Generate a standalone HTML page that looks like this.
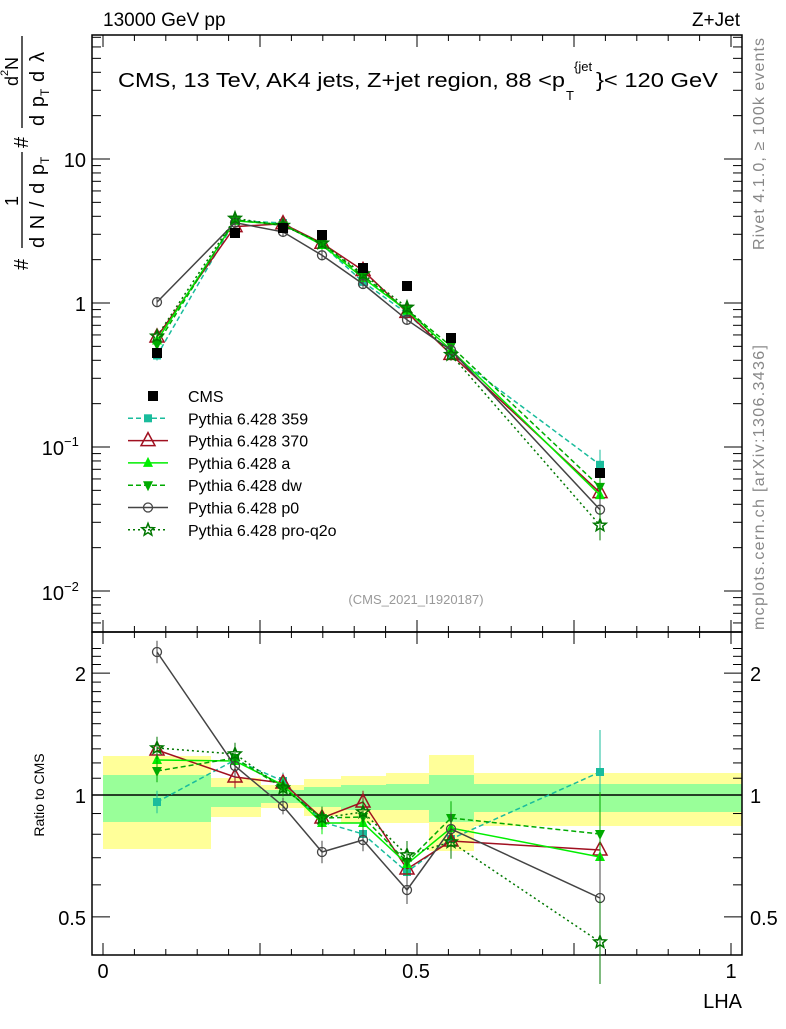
<!DOCTYPE html>
<html><head><meta charset="utf-8"><style>
body{margin:0;background:#fff}
svg{font-family:"Liberation Sans",sans-serif}
</style></head><body>
<svg id="s" width="786" height="1024" xmlns="http://www.w3.org/2000/svg"></svg>
<script>
const S=document.getElementById('s');let h='';
const X0=92,X1=742,YT=35,YM=632,YB=955;
const xp=v=>103+628*v;
const my=v=>303-144*Math.log10(v);
const ry=r=>795-405*Math.log10(r);
const edges=[103,211,261,304,341,386,429,474,742];
const yel=[[756,849],[778,817],[785,808],[779,816],[776,823],[773,823],[755,851],[773,826]];
const grn=[[775,822],[787,807],[790,803],[787,807],[785,810],[784,810],[775,822],[784,812]];
for(let i=0;i<8;i++){h+=`<rect x="${edges[i]}" y="${yel[i][0]}" width="${edges[i+1]-edges[i]}" height="${yel[i][1]-yel[i][0]}" fill="#ffff99"/>`;
h+=`<rect x="${edges[i]}" y="${grn[i][0]}" width="${edges[i+1]-edges[i]}" height="${grn[i][1]-grn[i][0]}" fill="#99ff99"/>`;}
h+=`<line x1="${X0}" y1="795" x2="${X1}" y2="795" stroke="#000" stroke-width="1.5"/>`;
h+=`<rect x="${X0}" y="${YT}" width="${X1-X0}" height="${YM-YT}" fill="none" stroke="#000" stroke-width="1.5"/>`;
h+=`<rect x="${X0}" y="${YM}" width="${X1-X0}" height="${YB-YM}" fill="none" stroke="#000" stroke-width="1.5"/>`;
for(let i=0;i<=20;i++){const x=xp(i*0.05),L=i%5==0?12:6;
 for(const yb of [YM,YB]){h+=`<line x1="${x}" y1="${yb}" x2="${x}" y2="${yb-L}" stroke="#000"/>`;}
 h+=`<line x1="${x}" y1="${YT}" x2="${x}" y2="${YT+L}" stroke="#000"/><line x1="${x}" y1="${YM}" x2="${x}" y2="${YM+L}" stroke="#000"/>`;}
for(let d=-3;d<=1;d++)for(let m=1;m<10;m++){const v=m*Math.pow(10,d),y=my(v);if(y<YT||y>YM)continue;const L=m==1?18:9;
 h+=`<line x1="${X0}" y1="${y}" x2="${X0+L}" y2="${y}" stroke="#000"/><line x1="${X1}" y1="${y}" x2="${X1-L}" y2="${y}" stroke="#000"/>`;}
for(let r=0.4;r<=2.4;r+=0.1){const y=ry(r);if(y<YM||y>YB)continue;const big=Math.abs(r-0.5)<1e-6||Math.abs(r-1)<1e-6||Math.abs(r-2)<1e-6;const L=big?18:9;
 h+=`<line x1="${X0}" y1="${y}" x2="${X0+L}" y2="${y}" stroke="#000"/><line x1="${X1}" y1="${y}" x2="${X1-L}" y2="${y}" stroke="#000"/>`;}
const T=(x,y,t,s,a,extra)=>h+=`<text x="${x}" y="${y}" font-size="${s}" text-anchor="${a||'start'}" ${extra||''}>${t}</text>`;
T(103,26,'13000 GeV pp',19);T(740,26,'Z+Jet',19,'end');
T(86,167,'10',20,'end');T(86,311,'1',20,'end');
T(64,455,'10',20,'end');T(64,446,'−1',13);T(64,600,'10',20,'end');T(64,591,'−2',13);
T(86,681,'2',20,'end');T(86,803,'1',20,'end');T(86,925,'0.5',20,'end');
T(750,681,'2',20);T(750,803,'1',20);T(750,925,'0.5',20);
T(103,978,'0',20,'middle');T(416,978,'0.5',20,'middle');T(731,978,'1',20,'middle');
T(742,1008,'LHA',20,'end');
T(118,87,'CMS, 13 TeV, AK4 jets, Z+jet region, 88 &lt;p',20,'start','textLength="447" lengthAdjust="spacingAndGlyphs"');
T(566,100,'T',13);T(574,71,'{jet',13);T(596,87,'}&lt; 120 GeV',20,'start','textLength="122" lengthAdjust="spacingAndGlyphs"');
T(416,604,'(CMS_2021_I1920187)',13,'middle','fill="#999"');
T(764,250,'Rivet 4.1.0, ≥ 100k events',16,'start','fill="#888" textLength="212" transform="rotate(-90 764 250)"');
T(764,630,'mcplots.cern.ch [arXiv:1306.3436]',16,'start','fill="#888" textLength="285" transform="rotate(-90 764 630)"');
T(44,795,'Ratio to CMS',14,'middle','transform="rotate(-90 44 795)"');
// y label
const R90=(x,y,t,s,extra)=>h+=`<text x="${x}" y="${y}" font-size="${s}" transform="rotate(-90 ${x} ${y})" ${extra||''}>${t}</text>`;
R90(28,270,'#',20);
R90(18,206,'1',18);
h+=`<line x1="22" y1="248" x2="22" y2="152" stroke="#000" stroke-width="1.3"/>`;
R90(44,248,'d N / d p',20,'textLength="84"');
R90(49,164,'T',12);
R90(28,148,'#',20);
h+=`<line x1="22" y1="128" x2="22" y2="36" stroke="#000" stroke-width="1.3"/>`;
R90(44,126,'d p',20,'textLength="30"');
R90(49,96,'T',12);
R90(44,82,'d λ',20,'textLength="30"');
R90(18,86,'d',18);R90(8,76,'2',11);R90(18,70,'N',18);
// data
const xs=[157,235,283,322,363,407,451,600];
const cms=[353,233,228,235,268,286,338,473];
const R={
s359:[802,760,781,822,834,872,839,772],
s370:[750,777,783,818,802,869,841,850],
a:[760,761,785,823,823,864,828,857],
dw:[771,758,788,818,817,862,818,834],
p0:[652,766,806,852,840,890,829,898],
pq:[748,754,788,818,812,855,842,942]};
const st={
s359:{c:'#1abc9c',d:'5,3',m:'sq'},
s370:{c:'#a01020',d:'',m:'tri'},
a:{c:'#00ee00',d:'',m:'trif'},
dw:{c:'#00aa00',d:'5,3',m:'tdn'},
p0:{c:'#444',d:'',m:'circ'},
pq:{c:'#007700',d:'2,3',m:'star'}};
function mk(m,x,y,c){
 if(m=='sq')return `<rect x="${x-4}" y="${y-4}" width="8" height="8" fill="${c}"/>`;
 if(m=='tri')return `<polygon points="${x},${y-8} ${x-7},${y+5} ${x+7},${y+5}" fill="none" stroke="${c}" stroke-width="1.5"/>`;
 if(m=='trif')return `<polygon points="${x},${y-6} ${x-5},${y+4} ${x+5},${y+4}" fill="${c}"/>`;
 if(m=='tdn')return `<polygon points="${x},${y+6} ${x-5},${y-4} ${x+5},${y-4}" fill="${c}"/>`;
 if(m=='circ')return `<circle cx="${x}" cy="${y}" r="4.5" fill="none" stroke="${c}" stroke-width="1.3"/>`;
 if(m=='star'){let p=[];for(let i=0;i<10;i++){const r=i%2?2.8:6.5,a=-Math.PI/2+i*Math.PI/5;p.push((x+r*Math.cos(a)).toFixed(1)+','+(y+r*Math.sin(a)).toFixed(1));}return `<polygon points="${p.join(' ')}" fill="none" stroke="${c}" stroke-width="1.5"/>`;}
}
const eb=[8,8,6,8,8,10,12,30];
for(const k in R){const s=st[k];
 const mys=R[k].map((r,i)=>cms[i]+0.356*(r-795));
 [[mys,0.5],[R[k],1.4]].forEach(([ys,f])=>{
  h+=`<polyline points="${xs.map((x,i)=>x+','+ys[i]).join(' ')}" fill="none" stroke="${s.c}" stroke-width="1.5" stroke-dasharray="${s.d}"/>`;
  xs.forEach((x,i)=>{const e=Math.max(5,eb[i]*f);h+=`<line x1="${x}" y1="${ys[i]-e}" x2="${x}" y2="${ys[i]+e}" stroke="${s.c}"/>`;h+=mk(s.m,x,ys[i],s.c);});
 });}
xs.forEach((x,i)=>h+=`<rect x="${x-5}" y="${cms[i]-5}" width="10" height="10" fill="#000"/>`);
const leg=[['CMS',null],['Pythia 6.428 359','s359'],['Pythia 6.428 370','s370'],['Pythia 6.428 a','a'],['Pythia 6.428 dw','dw'],['Pythia 6.428 p0','p0'],['Pythia 6.428 pro-q2o','pq']];
leg.forEach((l,i)=>{const y=396+i*22.3;
 if(!l[1])h+=`<rect x="148" y="${y-5}" width="10" height="10" fill="#000"/>`;
 else{const s=st[l[1]];h+=`<line x1="128" y1="${y}" x2="168" y2="${y}" stroke="${s.c}" stroke-width="1.5" stroke-dasharray="${s.d}"/>`+mk(s.m,148,y,s.c);}
 T(188,y+6,l[0],16);});
S.innerHTML=h;
</script>
</body></html>
